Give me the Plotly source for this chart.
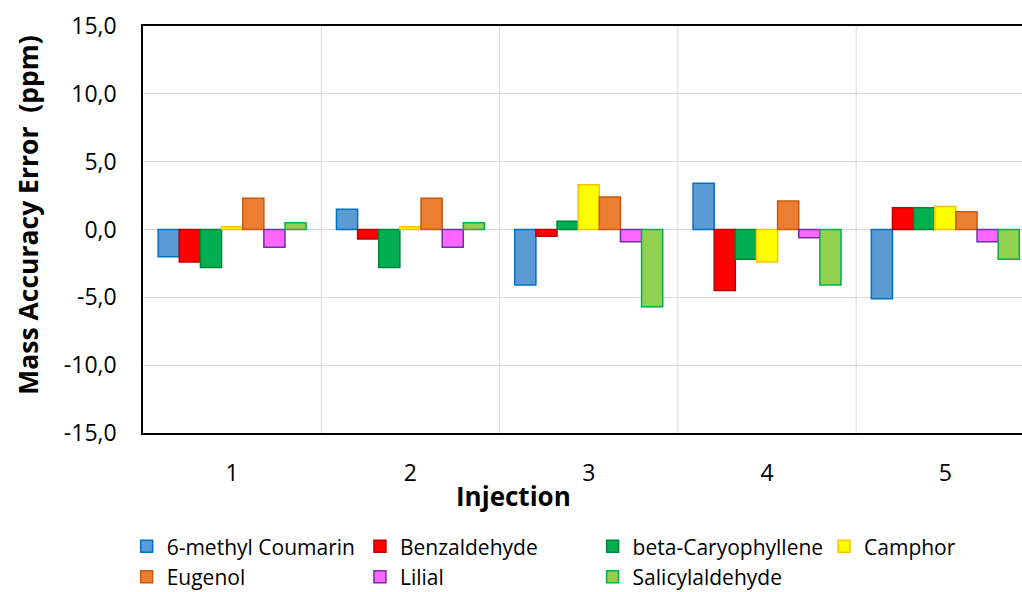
import plotly.graph_objects as go

injections = ["1", "2", "3", "4", "5"]
series_names = ["6-methyl Coumarin", "Benzaldehyde", "beta-Caryophyllene", "Camphor",
                "Eugenol", "Lilial", "Salicylaldehyde"]
coumarin = [-2.0, 1.5, -4.1, 3.4, -5.1]
benzaldehyde = [-2.4, -0.7, -0.5, -4.5, 1.6]
caryophyllene = [-2.8, -2.8, 0.6, -2.2, 1.6]
camphor = [0.2, 0.2, 3.3, -2.4, 1.7]
eugenol = [2.3, 2.3, 2.4, 2.1, 1.3]
lilial = [-1.3, -1.3, -0.9, -0.6, -0.9]
salicylaldehyde = [0.5, 0.5, -5.7, -4.1, -2.2]
values = [coumarin, benzaldehyde, caryophyllene, camphor, eugenol, lilial, salicylaldehyde]

fills = ["#5B9BD5", "#FF0000", "#00B050", "#FFFF00", "#ED7D31", "#FF66FF", "#92D050"]
edges = ["#0070C0", "#C00000", "#00843C", "#FFC000", "#C55A11", "#7030A0", "#00B050"]
legend_ids = ["legend", "legend2", "legend3", "legend4", "legend", "legend2", "legend3"]

FONT = "Open Sans"
fig = go.Figure()
x = [1, 2, 3, 4, 5]
for name, v, f, e, lg in zip(series_names, values, fills, edges, legend_ids):
    fig.add_trace(go.Bar(
        x=x, y=v, name=name, legend=lg, legendgroup=name,
        marker=dict(color=f, line=dict(color=e, width=1.5)),
    ))

legend_common = dict(orientation="v", xanchor="left", yanchor="top",
                     font=dict(family=FONT, size=21, color="#000000"),
                     bgcolor="rgba(0,0,0,0)", itemwidth=30, tracegroupgap=18,
                     traceorder="normal")
ly = -0.229
fig.update_layout(
    width=1022, height=592,
    margin=dict(l=143, r=0, t=26, b=159, pad=0, autoexpand=False),
    paper_bgcolor="white", plot_bgcolor="white",
    barmode="group", bargap=0.17, bargroupgap=0,
    font=dict(family=FONT, color="#000000"),
    showlegend=True,
    legend=dict(x=-0.0186, y=ly, **legend_common),
    legend2=dict(x=0.2468, y=ly, **legend_common),
    legend3=dict(x=0.5115, y=ly, **legend_common),
    legend4=dict(x=0.7748, y=ly, **legend_common),
    xaxis=dict(
        range=[0.5, 5.43], tickvals=x, ticktext=injections,
        showgrid=False, zeroline=False, automargin=False,
        showline=True, linecolor="#000000", linewidth=1.5, mirror=True,
        ticks="", tickfont=dict(family=FONT, size=23),
        ticklabelstandoff=19,
    ),
    yaxis=dict(
        range=[-15, 15], tickvals=[-15, -10, -5, 0, 5, 10, 15],
        ticktext=["-15,0", "-10,0", "-5,0", "0,0", "5,0", "10,0", "15,0"],
        showgrid=True, gridcolor="#D9D9D9", gridwidth=1, automargin=False,
        zeroline=True, zerolinecolor="#D9D9D9", zerolinewidth=1,
        showline=True, linecolor="#000000", linewidth=1.5, mirror=True,
        ticks="", tickfont=dict(family=FONT, size=23),
        ticklabelstandoff=20,
    ),
    annotations=[
        dict(text="<b>Injection</b>", xref="paper", yref="paper", x=0.421, y=-0.155,
             xanchor="center", yanchor="middle", showarrow=False,
             font=dict(family=FONT, size=26, color="#000000")),
        dict(text="<b>Mass Accuracy Error  (ppm)</b>", xref="paper", yref="paper",
             x=-0.131, y=0.536, textangle=-90, xanchor="center", yanchor="middle",
             showarrow=False, font=dict(family=FONT, size=26.5, color="#000000")),
    ],
)
# vertical category separators
for b in [1.5, 2.5, 3.5, 4.5]:
    fig.add_vline(x=b, line=dict(color="#D9D9D9", width=1), layer="below")

fig.write_html(
    "out.html",
    config={"displayModeBar": False},
    post_script="document.body.style.margin='0';document.body.style.overflow='hidden';",
)
